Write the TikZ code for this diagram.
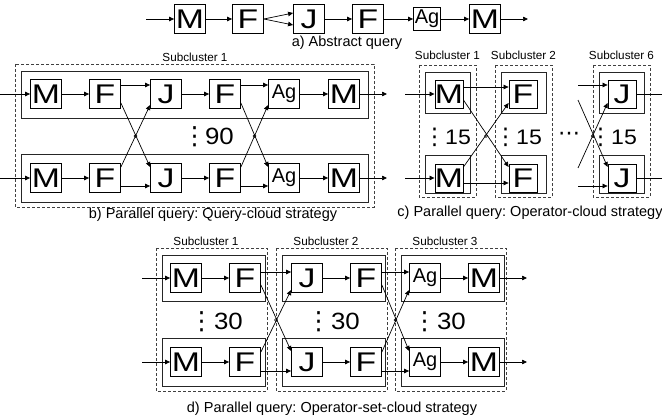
\documentclass[tikz,border=0pt]{standalone}
\usepackage{fontspec}
\setmainfont{Liberation Sans}
\newfontfamily\opfont[FakeStretch=1.25]{Liberation Sans}
\newfontfamily\numfont[FakeStretch=1.1]{Liberation Sans}
\newfontfamily\dvfont{DejaVu Sans}
\usetikzlibrary{arrows.meta,calc}
\frenchspacing
\tikzset{
  op/.style={draw, line width=0.8pt, minimum width=31pt, minimum height=29pt, inner sep=0pt, font=\opfont\fontsize{27}{27}\selectfont},
  agop/.style={op, font=\fontsize{20}{20}\selectfont},
  opc/.style={op, minimum width=28pt, minimum height=28pt},
  grp/.style={draw, line width=0.9pt, black!85},
  cl/.style={draw, dash pattern=on 3pt off 2pt, line width=0.8pt, black!75},
  arr/.style={-{Triangle[length=5pt,width=4.5pt]}, line width=0.7pt},
  captxt/.style={font=\fontsize{14.5}{15}\selectfont, inner sep=0pt},
  sublbl/.style={font=\fontsize{11.7}{12}\selectfont, inner sep=0pt},
  num/.style={font=\numfont\fontsize{23.5}{23.5}\selectfont, inner sep=0pt},
  hop/.style={circle, draw, inner sep=0pt, minimum size=3pt, line width=0.5pt}
}
\newcommand{\vd}{{\dvfont\fontsize{25}{25}\selectfont\kern-4pt⋮\kern-5pt}}
\newcommand{\vds}{{\dvfont\fontsize{23}{23}\selectfont\kern-4pt⋮\kern-4pt}}
\begin{document}
\begin{tikzpicture}[x=1pt,y=-1pt]
\useasboundingbox (0,0) rectangle (662,420);
% ---------------- a) ----------------
\node[op] (aM1) at (190,19) {M};
\node[op] (aF1) at (248,19) {F};
\node[op] (aJ) at (309,19) {J};
\node[op] (aF2) at (368,19) {F};
\node[agop, minimum width=27pt, minimum height=23pt] (aAg) at (427,19) {Ag};
\node[op] (aM2) at (485,19) {M};
\coordinate (aIn) at (146,19);
\coordinate (aOut) at (528,19);
\draw[arr] (aIn) -- (aM1);
\draw[arr] (aM1) -- (aF1);
\draw[arr] (aF1.east) -- ([yshift=6pt]aJ.west);
\draw[arr] (aF1.east) -- ([yshift=-6pt]aJ.west);
\draw[arr] (aJ) -- (aF2);
\draw[arr] (aF2) -- (aAg);
\draw[arr] (aAg) -- (aM2);
\draw[arr] (aM2) -- (aOut);
\node[captxt] (capa) at (347,43) {a) Abstract query};
% ---------------- b) ----------------
\draw[cl] (15,64) rectangle (374,207);
\draw[grp] (21,71) rectangle (368,118);
\draw[grp] (21,154) rectangle (368,202);
\node[sublbl] (bS) at (195,57) {Subcluster 1};
\foreach \r/\y in {u/94,l/178}{
  \node[op] (bM1\r) at (46,\y) {M};
  \node[op] (bF1\r) at (105,\y) {F};
  \node[op] (bJ\r) at (166,\y) {J};
  \node[op] (bF2\r) at (225,\y) {F};
  \node[agop] (bAg\r) at (284,\y) {Ag};
  \node[op] (bM2\r) at (344,\y) {M};
  \coordinate (bIn\r) at (0,\y);
  \coordinate (bOut\r) at (387,\y);
  \draw[arr] (bIn\r) -- (bM1\r);
  \draw[arr] (bM1\r) -- (bF1\r);
  \draw[arr] (bJ\r) -- (bF2\r);
  \draw[arr] (bAg\r) -- (bM2\r);
  \draw[arr] (bM2\r) -- (bOut\r);
}
\foreach \s/\t in {bF1/bJ,bF2/bAg}{
  \draw[arr] ([yshift=9pt]\s u.east) -- ([yshift=9pt]\t u.west);
  \draw[arr] ([yshift=-9pt]\s u.east) -- ([yshift=11pt]\t l.west);
  \draw[arr] ([yshift=11pt]\s l.east) -- ([yshift=-11pt]\t u.west);
  \draw[arr] ([yshift=-8pt]\s l.east) -- ([yshift=-8pt]\t l.west);
  \node[hop] at ($(\s u.east)!0.5!(\t l.west)$) {};
}
\node[num] (bN) at (210,137) {\vd\kern3pt 90};
\node[captxt] (capb) at (213,215) {b) Parallel query: Query-cloud strategy};
% ---------------- c) ----------------
\foreach \x/\n/\lab/\nx in {419/1/1/449,495/2/2/520,593/6/6/615}{
  \draw[cl] (\x,65) rectangle ++(57,132);
  \draw[grp] (\x+6,72) rectangle ++(45,41);
  \draw[grp] (\x+6,155) rectangle ++(45,38);
  \node[sublbl] (cS\n) at (\x+28.5,55) {Subcluster \lab};
  \node[num, font=\numfont\fontsize{21}{21}\selectfont] (cN\n) at (\nx,137) {\vds\kern3pt 15};
}
\foreach \r/\y in {u/94,l/178}{
  \node[opc] (cM\r) at (449,\y) {M};
  \node[opc] (cF\r) at (523,\y) {F};
  \node[opc] (cJ\r) at (622,\y) {J};
  \coordinate (cIn\r) at (405,\y);
  \coordinate (cSrc\r) at (578,\y);
  \coordinate (cOut\r) at (670,\y);
  \draw[arr] (cIn\r) -- (cM\r);
  \draw[arr] (cJ\r) -- (cOut\r);
}
\draw[arr] ([yshift=7pt]cMu.east) -- ([yshift=7pt]cFu.west);
\draw[arr] ([yshift=-6pt]cMu.east) -- ([yshift=11pt]cFl.west);
\draw[arr] ([yshift=11pt]cMl.east) -- ([yshift=-9pt]cFu.west);
\draw[arr] ([yshift=-5pt]cMl.east) -- ([yshift=-5pt]cFl.west);
\node[hop] at ($(cMu.east)!0.5!(cFl.west)$) {};
\draw[arr] ([yshift=9pt]cSrcu) -- ([yshift=9pt]cJu.west);
\draw[arr] ([yshift=-6pt]cSrcu) -- ([yshift=11pt]cJl.west);
\draw[arr] ([yshift=10pt]cSrcl) -- ([yshift=-9pt]cJu.west);
\draw[arr] ([yshift=-8pt]cSrcl) -- ([yshift=-8pt]cJl.west);
\node[hop] at ($(cSrcu)!0.5!(cJl.west)$) {};
\node[font=\dvfont\fontsize{22}{22}\selectfont, inner sep=0pt] (cDots) at (569,136) {⋯};
\node[captxt] (capc) at (530,213) {c) Parallel query: Operator-cloud strategy};
% ---------------- d) ----------------
\foreach \x/\n/\nx in {156/1/218,276/2/335,395/3/441}{
  \draw[cl] (\x,248) rectangle ++(111,143);
  \draw[grp] (\x+6,255) rectangle ++(103,46);
  \draw[grp] (\x+6,338) rectangle ++(103,48);
  \node[sublbl] (dS\n) at (\x+50,241) {Subcluster \n};
  \node[num] (dN\n) at (\nx,322) {\vd\kern5pt 30};
}
\foreach \r/\y in {u/278,l/362}{
  \node[op] (dM1\r) at (186,\y) {M};
  \node[op] (dF1\r) at (245,\y) {F};
  \node[op] (dJ\r) at (307,\y) {J};
  \node[op] (dF2\r) at (366,\y) {F};
  \node[agop] (dAg\r) at (425,\y) {Ag};
  \node[op] (dM2\r) at (484,\y) {M};
  \coordinate (dIn\r) at (142,\y);
  \coordinate (dOut\r) at (527,\y);
  \draw[arr] (dIn\r) -- (dM1\r);
  \draw[arr] (dM1\r) -- (dF1\r);
  \draw[arr] (dJ\r) -- (dF2\r);
  \draw[arr] (dAg\r) -- (dM2\r);
  \draw[arr] (dM2\r) -- (dOut\r);
}
\foreach \s/\t in {dF1/dJ,dF2/dAg}{
  \draw[arr] ([yshift=6pt]\s u.east) -- ([yshift=6pt]\t u.west);
  \draw[arr] ([yshift=-7pt]\s u.east) -- ([yshift=11pt]\t l.west);
  \draw[arr] ([yshift=10pt]\s l.east) -- ([yshift=-12pt]\t u.west);
  \draw[arr] ([yshift=-9pt]\s l.east) -- ([yshift=-9pt]\t l.west);
  \node[hop] at ($(\s u.east)!0.5!(\t l.west)$) {};
}
\node[captxt] (capd) at (332,409) {d) Parallel query: Operator-set-cloud strategy};
\end{tikzpicture}
\end{document}
